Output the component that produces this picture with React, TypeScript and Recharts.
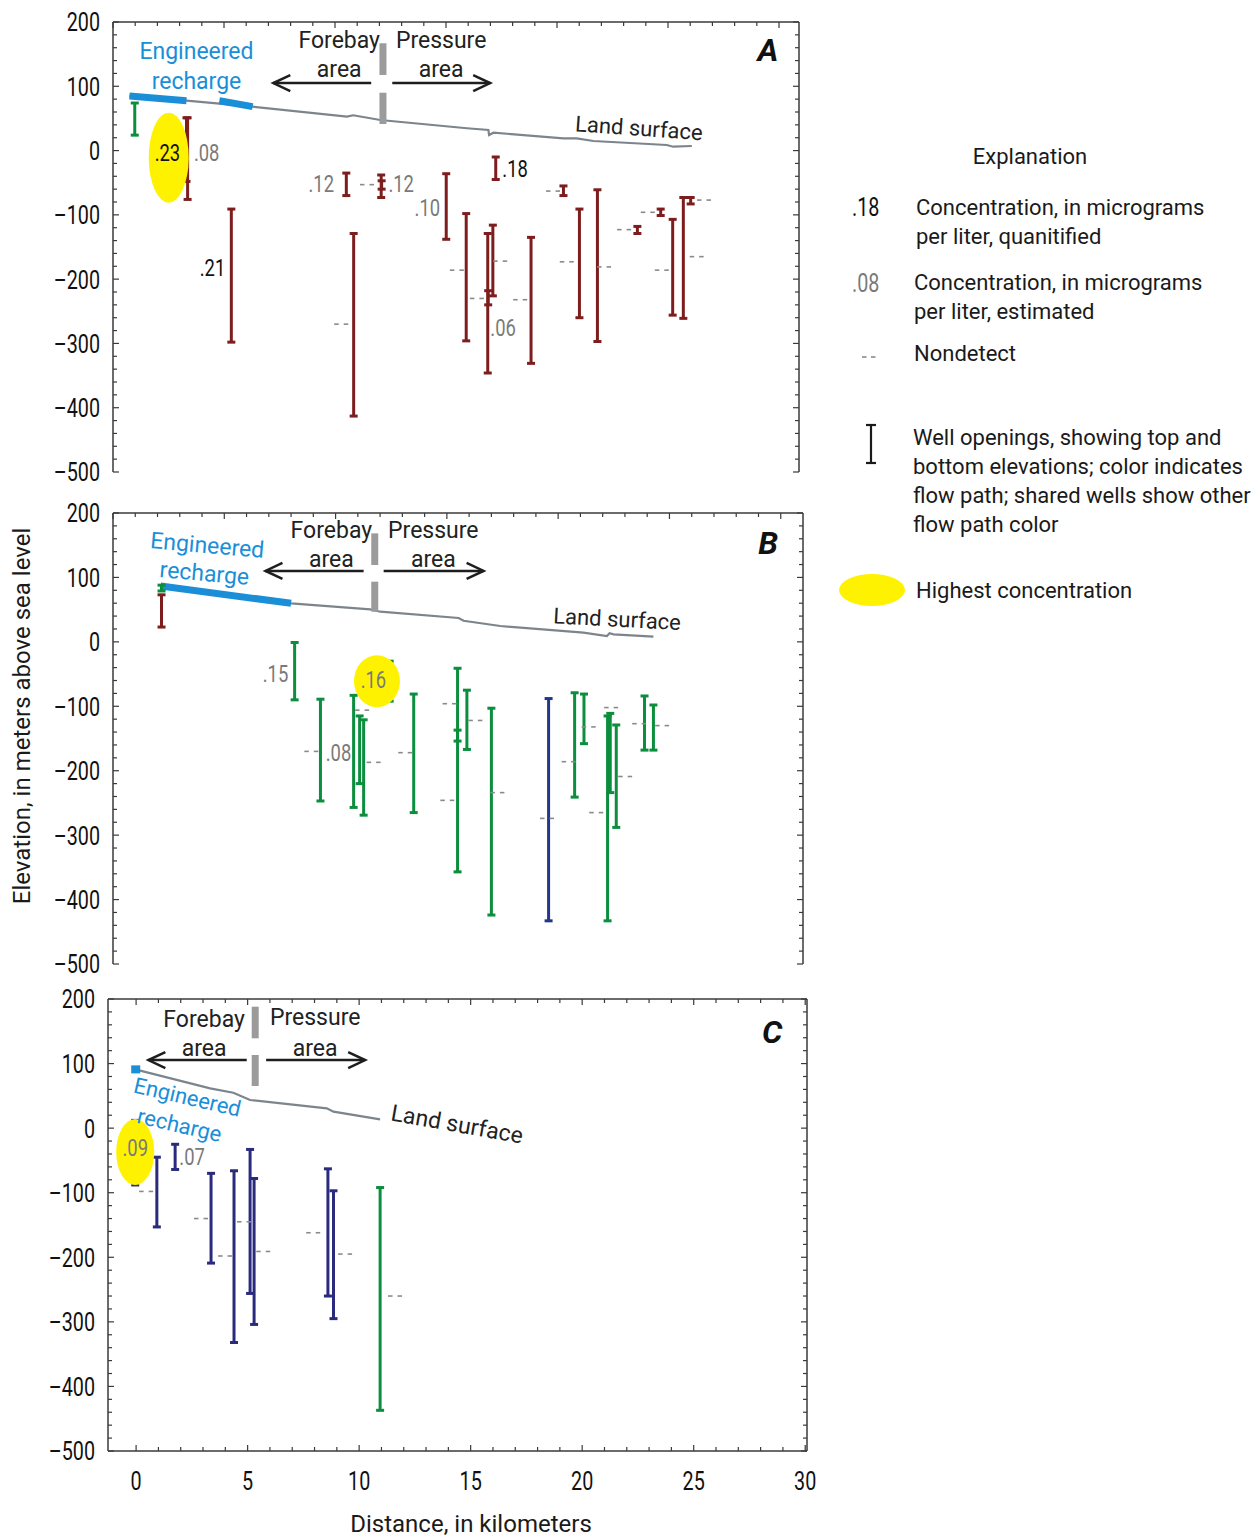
import React from 'react';
import {
  ComposedChart,
  XAxis,
  YAxis,
  Line,
  Scatter,
  ErrorBar,
  ReferenceLine,
  ReferenceDot,
} from 'recharts';

type Pt = { x: number; y: number };
type Well = { x: number; top: number; bottom: number };
type Conc = { x: number; y: number; text: string; est: boolean };

// ---------- data (distance in km, elevation in m above sea level) ----------

const yTicks = [
  200, 180, 160, 140, 120, 100, 80, 60, 40, 20, 0, -20, -40, -60, -80, -100, -120, -140, -160, -180,
  -200, -220, -240, -260, -280, -300, -320, -340, -360, -380, -400, -420, -440, -460, -480, -500,
];
const xTicks = [
  0, 1, 2, 3, 4, 5, 6, 7, 8, 9, 10, 11, 12, 13, 14, 15, 16, 17, 18, 19, 20, 21, 22, 23, 24, 25, 26,
  27, 28, 29, 30,
];

// Panel A
const wellsRedA: Well[] = [
  { x: 3.31, top: 51, bottom: -48 },
  { x: 3.36, top: 51, bottom: -76 },
  { x: 5.33, top: -91, bottom: -298 },
  { x: 10.51, top: -35, bottom: -70 },
  { x: 10.84, top: -129, bottom: -413 },
  { x: 12.08, top: -38, bottom: -73 },
  { x: 12.1, top: -47, bottom: -60 },
  { x: 15.01, top: -36, bottom: -138 },
  { x: 15.91, top: -98, bottom: -296 },
  { x: 16.88, top: -129, bottom: -346 },
  { x: 16.9, top: -218, bottom: -240 },
  { x: 17.11, top: -116, bottom: -226 },
  { x: 17.24, top: -10, bottom: -45 },
  { x: 18.83, top: -135, bottom: -331 },
  { x: 20.29, top: -55, bottom: -70 },
  { x: 21.01, top: -91, bottom: -260 },
  { x: 21.82, top: -61, bottom: -297 },
  { x: 23.62, top: -118, bottom: -129 },
  { x: 24.67, top: -91, bottom: -101 },
  { x: 25.21, top: -107, bottom: -256 },
  { x: 25.69, top: -73, bottom: -261 },
  { x: 26.02, top: -73, bottom: -83 },
];
const wellsGreenA: Well[] = [{ x: 0.98, top: 74, bottom: 24 }];
const concA: Conc[] = [
  { x: 2.45, y: -4, text: '.23', est: false },
  { x: 4.22, y: -4, text: '.08', est: true },
  { x: 4.48, y: -183, text: '.21', est: false },
  { x: 9.38, y: -52, text: '.12', est: true },
  { x: 12.98, y: -52, text: '.12', est: true },
  { x: 14.16, y: -89, text: '.10', est: true },
  { x: 18.11, y: -29, text: '.18', est: false },
  { x: 17.57, y: -276, text: '.06', est: true },
];
const nondetectA: Pt[] = [
  { x: 11.44, y: -53 }, { x: 10.28, y: -270 }, { x: 15.49, y: -186 }, { x: 16.39, y: -230 },
  { x: 17.44, y: -172 }, { x: 18.34, y: -232 }, { x: 20.44, y: -173 }, { x: 22.12, y: -181 },
  { x: 19.82, y: -63 }, { x: 23.02, y: -123 }, { x: 24.09, y: -96 }, { x: 24.72, y: -186 },
  { x: 26.29, y: -165 }, { x: 26.62, y: -77 },
];
const highestA: Pt[] = [{ x: 2.51, y: -11 }];
const landA: Pt[] = [
  { x: 0.74, y: 84.9 }, { x: 3.31, y: 77.6 }, { x: 6.29, y: 68.3 }, { x: 10.54, y: 52.7 },
  { x: 10.82, y: 54.9 }, { x: 12.04, y: 47.6 }, { x: 15.94, y: 34.7 }, { x: 16.91, y: 32.0 },
  { x: 16.94, y: 24.2 }, { x: 17.14, y: 27.8 }, { x: 20.29, y: 19.1 }, { x: 20.89, y: 19.1 },
  { x: 21.64, y: 14.9 }, { x: 24.94, y: 8.7 }, { x: 25.24, y: 6.0 }, { x: 26.07, y: 7.1 },
];
const rechargeA1: Pt[] = [{ x: 0.74, y: 84.9 }, { x: 3.31, y: 77.6 }];
const rechargeA2: Pt[] = [{ x: 4.79, y: 77.6 }, { x: 6.29, y: 68.3 }];

// Panel B
const wellsGreenB: Well[] = [
  { x: 2.18, top: 88, bottom: 79 },
  { x: 8.16, top: -1, bottom: -90 },
  { x: 9.32, top: -89, bottom: -247 },
  { x: 10.81, top: -83, bottom: -257 },
  { x: 11.08, top: -115, bottom: -220 },
  { x: 11.26, top: -121, bottom: -269 },
  { x: 12.43, top: -30, bottom: -92 },
  { x: 13.51, top: -81, bottom: -265 },
  { x: 15.48, top: -41, bottom: -357 },
  { x: 15.48, top: -137, bottom: -154 },
  { x: 15.9, top: -75, bottom: -167 },
  { x: 17.0, top: -103, bottom: -424 },
  { x: 20.74, top: -79, bottom: -241 },
  { x: 21.16, top: -81, bottom: -158 },
  { x: 22.22, top: -115, bottom: -433 },
  { x: 22.34, top: -111, bottom: -234 },
  { x: 22.61, top: -129, bottom: -288 },
  { x: 23.88, top: -84, bottom: -168 },
  { x: 24.28, top: -98, bottom: -168 },
];
const wellsRedB: Well[] = [{ x: 2.18, top: 73, bottom: 23 }];
const wellsBlueB: Well[] = [{ x: 19.57, top: -88, bottom: -433 }];
const concB: Conc[] = [
  { x: 7.3, y: -50, text: '.15', est: true },
  { x: 11.7, y: -59, text: '.16', est: true },
  { x: 10.13, y: -172, text: '.08', est: true },
];
const nondetectB: Pt[] = [
  { x: 8.91, y: -170 }, { x: 11.19, y: -106 }, { x: 11.71, y: -187 }, { x: 13.13, y: -172 },
  { x: 15.12, y: -96 }, { x: 15.02, y: -246 }, { x: 16.28, y: -122 }, { x: 17.27, y: -234 },
  { x: 19.5, y: -274 }, { x: 20.47, y: -186 }, { x: 21.37, y: -132 }, { x: 21.71, y: -265 },
  { x: 22.38, y: -102 }, { x: 23.01, y: -209 }, { x: 23.64, y: -127 }, { x: 24.67, y: -130 },
];
const highestB: Pt[] = [{ x: 11.86, y: -61 }];
const landB: Pt[] = [
  { x: 2.14, y: 86.7 }, { x: 8.0, y: 59.8 }, { x: 11.56, y: 50.5 }, { x: 12.01, y: 46.8 },
  { x: 15.53, y: 37.0 }, { x: 15.75, y: 32.8 }, { x: 17.4, y: 24.6 }, { x: 21.14, y: 14.2 },
  { x: 22.19, y: 9.1 }, { x: 22.31, y: 13.3 }, { x: 22.49, y: 11.7 }, { x: 24.28, y: 8.0 },
];
const rechargeB: Pt[] = [{ x: 2.14, y: 86.7 }, { x: 8.0, y: 59.8 }];

// Panel C
const wellsNavyC: Well[] = [
  { x: -0.04, top: 12, bottom: -88 },
  { x: 0.93, top: -45, bottom: -153 },
  { x: 1.75, top: -25, bottom: -64 },
  { x: 3.36, top: -70, bottom: -209 },
  { x: 4.39, top: -66, bottom: -332 },
  { x: 5.11, top: -33, bottom: -256 },
  { x: 5.29, top: -78, bottom: -304 },
  { x: 8.6, top: -63, bottom: -260 },
  { x: 8.85, top: -97, bottom: -295 },
];
const wellsGreenC: Well[] = [{ x: 10.94, top: -92, bottom: -437 }];
const concC: Conc[] = [
  { x: -0.04, y: -31, text: '.09', est: true },
  { x: 2.51, y: -45, text: '.07', est: true },
];
const nondetectC: Pt[] = [
  { x: 0.45, y: -98 }, { x: 2.91, y: -140 }, { x: 3.99, y: -198 }, { x: 4.84, y: -145 },
  { x: 5.7, y: -191 }, { x: 7.94, y: -162 }, { x: 9.37, y: -195 }, { x: 11.61, y: -260 },
];
const highestC: Pt[] = [{ x: -0.04, y: -37 }];
const landC: Pt[] = [
  { x: -0.04, y: 91.1 }, { x: 3.32, y: 61.7 }, { x: 4.36, y: 54.9 }, { x: 5.11, y: 43.6 },
  { x: 8.55, y: 30.7 }, { x: 8.85, y: 25.5 }, { x: 10.94, y: 13.7 },
];
const rechargeC: Pt[] = [{ x: -0.04, y: 91 }];

// ---------- styles ----------
const RED = '#7d1d1d';
const GREEN = '#0b8e3d';
const BLUE_B = '#22378c';
const NAVY = '#2a2b7d';
const RECHARGE = '#1a8fd8';
const LAND = '#7c848c';
const DIVIDER = '#9b9b9b';
const YELLOW = '#fff200';
const GRAY_T = '#7a7a7a';
const AXIS = '#3a3a3a';
const TEXT_FONT = "Roboto, 'Liberation Sans', sans-serif";

const fmtY = (v: number) => (v < 0 ? '\u2013' + Math.abs(v) : String(v));

// condensed-looking numerals (horizontally squeezed)
function NumText(props: { x: number; y: number; size: number; anchor: string; fill: string; sx?: number; children: React.ReactNode }) {
  return (
    <text
      transform={`translate(${props.x},${props.y}) scale(${props.sx ?? 0.76},1)`}
      dy="0.36em"
      textAnchor={props.anchor}
      fontSize={props.size}
      fontFamily={TEXT_FONT}
      fill={props.fill}
    >
      {props.children}
    </text>
  );
}

const LeftTick = (p: any) => {
  const v = p.payload.value;
  const major = v % 100 === 0;
  return (
    <g>
      <line x1={p.x} y1={p.y} x2={p.x + (major ? 6 : 4)} y2={p.y} stroke={AXIS} strokeWidth={1.2} />
      {major && (
        <NumText x={p.x - 13} y={p.y} size={26} anchor="end" fill="#111">
          {fmtY(v)}
        </NumText>
      )}
    </g>
  );
};
const RightTick = (p: any) => {
  const major = p.payload.value % 100 === 0;
  return <line x1={p.x} y1={p.y} x2={p.x - (major ? 6 : 4)} y2={p.y} stroke={AXIS} strokeWidth={1.2} />;
};
const TopTick = (p: any) => {
  const major = p.payload.value % 5 === 0;
  return <line x1={p.x} y1={p.y} x2={p.x} y2={p.y + (major ? 6 : 4)} stroke={AXIS} strokeWidth={1.2} />;
};
const BottomTick = (p: any) => {
  const major = p.payload.value % 5 === 0;
  return <line x1={p.x} y1={p.y} x2={p.x} y2={p.y - (major ? 6 : 4)} stroke={AXIS} strokeWidth={1.2} />;
};
const BottomTickLabeled = (p: any) => {
  const v = p.payload.value;
  const major = v % 5 === 0;
  return (
    <g>
      <line x1={p.x} y1={p.y} x2={p.x} y2={p.y - (major ? 6 : 4)} stroke={AXIS} strokeWidth={1.2} />
      {major && (
        <NumText x={p.x} y={p.y + 30} size={26} anchor="middle" fill="#111">
          {v}
        </NumText>
      )}
    </g>
  );
};

const arrowShape = (p: any) => {
  const { x1, y1, x2, y2 } = p;
  const dir = x2 > x1 ? 1 : -1;
  return (
    <g>
      <line x1={x1} y1={y1} x2={x2} y2={y2} stroke="#1e1e1e" strokeWidth={2.5} />
      <polyline
        points={`${x2 - dir * 17},${y2 - 8} ${x2},${y2} ${x2 - dir * 17},${y2 + 8}`}
        fill="none"
        stroke="#1e1e1e"
        strokeWidth={2.5}
      />
    </g>
  );
};

type NoteOpts = { size?: number; color?: string; rot?: number; bold?: boolean; italic?: boolean };
function note(key: string, x: number, y: number, text: string, o: NoteOpts = {}) {
  return (
    <ReferenceDot
      key={key}
      x={x}
      y={y}
      r={0}
      ifOverflow="visible"
      shape={(s: any) => (
        <text
          x={s.cx}
          y={s.cy}
          dy="0.35em"
          textAnchor="middle"
          fontSize={o.size ?? 23}
          fontFamily={TEXT_FONT}
          fontWeight={o.bold ? 700 : 400}
          fontStyle={o.italic ? 'italic' : 'normal'}
          fill={o.color ?? '#222'}
          transform={o.rot ? `rotate(${o.rot} ${s.cx} ${s.cy})` : undefined}
        >
          {text}
        </text>
      )}
    />
  );
}
function divider(key: string, x: number, a: number, b: number) {
  return (
    <ReferenceLine
      key={key}
      segment={[{ x, y: a }, { x, y: b }]}
      stroke={DIVIDER}
      strokeWidth={7}
      ifOverflow="visible"
    />
  );
}
function arrow(key: string, from: number, to: number, y: number) {
  return (
    <ReferenceLine
      key={key}
      segment={[{ x: from, y }, { x: to, y }]}
      shape={arrowShape}
      ifOverflow="visible"
    />
  );
}

const toRows = (ws: Well[]) =>
  ws.map((w) => ({ x: w.x, mid: (w.top + w.bottom) / 2, half: (w.top - w.bottom) / 2 }));

type PanelCfg = {
  top: number;
  height: number;
  margin: { top: number; right: number; bottom: number; left: number };
  yWidth: number;
  xHeight: number;
  xDomain: [number, number];
  xLabels: boolean;
  wells: { color: string; list: Well[] }[];
  conc: Conc[];
  nondetect: Pt[];
  highest: Pt[];
  hl: { rx: number; ry: number };
  land: Pt[];
  recharge: Pt[][];
  rechargeDot?: Pt[];
  notes: React.ReactNode[];
};

function Panel({ c }: { c: PanelCfg }) {
  return (
    <div style={{ position: 'absolute', left: 0, top: c.top }}>
      <ComposedChart width={830} height={c.height} margin={c.margin}>
        <XAxis
          type="number"
          dataKey="x"
          domain={c.xDomain}
          allowDataOverflow
          ticks={xTicks}
          interval={0}
          tickSize={0}
          tickMargin={0}
          tickLine={false}
          tick={c.xLabels ? BottomTickLabeled : BottomTick}
          axisLine={{ stroke: AXIS, strokeWidth: 1.5 }}
          height={c.xHeight}
        />
        <XAxis
          xAxisId="t"
          orientation="top"
          type="number"
          dataKey="x"
          domain={c.xDomain}
          allowDataOverflow
          ticks={xTicks}
          interval={0}
          tickSize={0}
          tickMargin={0}
          tickLine={false}
          tick={TopTick}
          axisLine={{ stroke: AXIS, strokeWidth: 1.5 }}
          height={1}
        />
        <YAxis
          type="number"
          domain={[-500, 200]}
          allowDataOverflow
          ticks={yTicks}
          interval={0}
          tickSize={0}
          tickMargin={0}
          tickLine={false}
          tick={LeftTick}
          axisLine={{ stroke: AXIS, strokeWidth: 1.5 }}
          width={c.yWidth}
        />
        <YAxis
          yAxisId="r"
          orientation="right"
          type="number"
          domain={[-500, 200]}
          allowDataOverflow
          ticks={yTicks}
          interval={0}
          tickSize={0}
          tickMargin={0}
          tickLine={false}
          tick={RightTick}
          axisLine={{ stroke: AXIS, strokeWidth: 1.5 }}
          width={1}
        />

        <Scatter
          data={c.highest}
          dataKey="y"
          isAnimationActive={false}
          shape={(s: any) => <ellipse cx={s.cx} cy={s.cy} rx={c.hl.rx} ry={c.hl.ry} fill={YELLOW} />}
        />
        <Line
          data={c.land}
          dataKey="y"
          type="linear"
          stroke={LAND}
          strokeWidth={2.2}
          dot={false}
          isAnimationActive={false}
        />
        {c.recharge.map((seg, i) => (
          <Line
            key={'rc' + i}
            data={seg}
            dataKey="y"
            type="linear"
            stroke={RECHARGE}
            strokeWidth={7}
            dot={false}
            isAnimationActive={false}
          />
        ))}
        {c.rechargeDot && (
          <Scatter
            data={c.rechargeDot}
            dataKey="y"
            isAnimationActive={false}
            shape={(s: any) => <rect x={s.cx - 4} y={s.cy - 4} width={9} height={8} fill={RECHARGE} />}
          />
        )}
        {c.notes}
        {c.wells.map((g, i) => (
          <Scatter
            key={'w' + i}
            data={toRows(g.list)}
            dataKey="mid"
            isAnimationActive={false}
            shape={() => <g />}
          >
            <ErrorBar
              dataKey="half"
              direction="y"
              width={4}
              stroke={g.color}
              strokeWidth={3}
              isAnimationActive={false}
            />
          </Scatter>
        ))}
        {/* nondetects are plotted on the top/right axes (same scales) so those frame axes are in use */}
        <Scatter
          data={c.nondetect}
          dataKey="y"
          xAxisId="t"
          yAxisId="r"
          isAnimationActive={false}
          shape={(s: any) => (
            <g stroke="#8a8a8a" strokeWidth={1.6}>
              <line x1={s.cx - 7} y1={s.cy} x2={s.cx - 2.5} y2={s.cy} />
              <line x1={s.cx + 2.5} y1={s.cy} x2={s.cx + 7} y2={s.cy} />
            </g>
          )}
        />
        <Scatter
          data={c.conc}
          dataKey="y"
          isAnimationActive={false}
          shape={(s: any) => (
            <NumText x={s.cx} y={s.cy} size={23} anchor="middle" fill={s.payload.est ? GRAY_T : '#111'} sx={0.8}>
              {s.payload.text}
            </NumText>
          )}
        />
      </ComposedChart>
    </div>
  );
}

const panelA: PanelCfg = {
  top: 0,
  height: 490,
  margin: { top: 21, right: 30, bottom: 18, left: 0 },
  yWidth: 113,
  xHeight: 0,
  xDomain: [0, 30.9],
  xLabels: false,
  wells: [
    { color: GREEN, list: wellsGreenA },
    { color: RED, list: wellsRedA },
  ],
  conc: concA,
  nondetect: nondetectA,
  highest: highestA,
  hl: { rx: 20, ry: 45 },
  land: landA,
  recharge: [rechargeA1, rechargeA2],
  notes: [
    divider('d1', 12.16, 166.9, 117.6),
    divider('d2', 12.16, 90, 41.3),
    arrow('a1', 11.63, 7.22, 105),
    arrow('a2', 12.58, 16.99, 105),
    note('fb', 10.19, 172, 'Forebay'),
    note('fa', 10.19, 127, 'area'),
    note('pr', 14.78, 172, 'Pressure'),
    note('pa', 14.78, 127, 'area'),
    note('en', 3.76, 155, 'Engineered', { color: RECHARGE }),
    note('re', 3.76, 108, 'recharge', { color: RECHARGE }),
    note('ls', 23.69, 35, 'Land surface', { rot: 4, size: 22 }),
    note('id', 29.5, 156, 'A', { size: 32, bold: true, italic: true, color: '#111' }),
  ],
};

const panelB: PanelCfg = {
  top: 490,
  height: 490,
  margin: { top: 22, right: 26, bottom: 16, left: 0 },
  yWidth: 113,
  xHeight: 0,
  xDomain: [0, 31.0],
  xLabels: false,
  wells: [
    { color: GREEN, list: wellsGreenB },
    { color: RED, list: wellsRedB },
    { color: BLUE_B, list: wellsBlueB },
  ],
  conc: concB,
  nondetect: nondetectB,
  highest: highestB,
  hl: { rx: 23, ry: 26 },
  land: landB,
  recharge: [rechargeB],
  notes: [
    divider('d1', 11.76, 168.4, 119.3),
    divider('d2', 11.76, 93.4, 46.8),
    arrow('a1', 11.26, 6.85, 110),
    arrow('a2', 12.16, 16.65, 110),
    note('fb', 9.81, 173.6, 'Forebay'),
    note('fa', 9.81, 128.6, 'area'),
    note('pr', 14.39, 173.6, 'Pressure'),
    note('pa', 14.39, 128.6, 'area'),
    note('en', 4.24, 150.3, 'Engineered', { color: RECHARGE, rot: 5 }),
    note('re', 4.11, 106.9, 'recharge', { color: RECHARGE, rot: 5 }),
    note('ls', 22.65, 35.5, 'Land surface', { rot: 3, size: 22 }),
    note('id', 29.43, 153.4, 'B', { size: 32, bold: true, italic: true, color: '#111' }),
  ],
};

const panelC: PanelCfg = {
  top: 985,
  height: 554,
  margin: { top: 13, right: 22, bottom: 38, left: 0 },
  yWidth: 108,
  xHeight: 50,
  xDomain: [-1.26, 30.08],
  xLabels: true,
  wells: [
    { color: NAVY, list: wellsNavyC },
    { color: GREEN, list: wellsGreenC },
  ],
  conc: concC,
  nondetect: nondetectC,
  highest: highestC,
  hl: { rx: 19, ry: 33 },
  land: landC,
  recharge: [],
  rechargeDot: rechargeC,
  notes: [
    divider('d1', 5.34, 188.1, 139.1),
    divider('d2', 5.34, 113.3, 65.3),
    arrow('a1', 4.96, 0.55, 105.5),
    arrow('a2', 5.83, 10.27, 105.5),
    note('fb', 3.05, 169, 'Forebay'),
    note('fa', 3.05, 124.1, 'area'),
    note('pr', 8.03, 172.1, 'Pressure'),
    note('pa', 8.03, 124.1, 'area'),
    note('en', 2.3, 48.2, 'Engineered', { color: RECHARGE, rot: 13, size: 22 }),
    note('re', 1.95, 4.9, 'recharge', { color: RECHARGE, rot: 13, size: 22 }),
    note('ls', 14.39, 6.4, 'Land surface', { rot: 10, size: 23 }),
    note('id', 28.52, 148.9, 'C', { size: 32, bold: true, italic: true, color: '#111' }),
  ],
};

function Explanation() {
  const t = { fontFamily: TEXT_FONT, fontSize: 22, fill: '#1a1a1a' } as const;
  return (
    <svg width={430} height={500} style={{ position: 'absolute', left: 824, top: 120 }}>
      <g transform="translate(-824,-120)">
        <text x={1030} y={164} textAnchor="middle" {...t}>Explanation</text>
        <NumText x={852} y={207} size={26} anchor="start" fill="#111">.18</NumText>
        <text x={916} y={215} {...t}>Concentration, in micrograms</text>
        <text x={916} y={244} {...t}>per liter, quanitified</text>
        <NumText x={852} y={283} size={26} anchor="start" fill={GRAY_T}>.08</NumText>
        <text x={914} y={290} {...t}>Concentration, in micrograms</text>
        <text x={914} y={319} {...t}>per liter, estimated</text>
        <g stroke="#8a8a8a" strokeWidth={1.6}>
          <line x1={862} y1={357} x2={866.5} y2={357} />
          <line x1={871} y1={357} x2={875.5} y2={357} />
        </g>
        <text x={914} y={361} {...t}>Nondetect</text>
        <g stroke="#1a1a1a" strokeWidth={2.2}>
          <line x1={871} y1={425} x2={871} y2={463} />
          <line x1={866} y1={425} x2={876} y2={425} />
          <line x1={866} y1={463} x2={876} y2={463} />
        </g>
        <text x={913} y={445} {...t}>Well openings, showing top and</text>
        <text x={913} y={474} {...t}>bottom elevations; color indicates</text>
        <text x={913} y={503} {...t}>flow path; shared wells show other</text>
        <text x={913} y={532} {...t}>flow path color</text>
        <ellipse cx={872} cy={590} rx={33} ry={16} fill={YELLOW} />
        <text x={916} y={598} {...t}>Highest concentration</text>
      </g>
    </svg>
  );
}

export default function App() {
  return (
    <div style={{ position: 'absolute', left: 0, top: 0, width: 1254, height: 1539, background: '#fff' }}>
      <Panel c={panelA} />
      <Panel c={panelB} />
      <Panel c={panelC} />
      <div
        style={{
          position: 'absolute',
          left: 22,
          top: 716,
          transform: 'translate(-50%, -50%) rotate(-90deg)',
          whiteSpace: 'nowrap',
          fontFamily: TEXT_FONT,
          fontSize: 24,
          color: '#1a1a1a',
        }}
      >
        Elevation, in meters above sea level
      </div>
      <div
        style={{
          position: 'absolute',
          left: 471,
          top: 1524,
          transform: 'translate(-50%, -50%)',
          whiteSpace: 'nowrap',
          fontFamily: TEXT_FONT,
          fontSize: 24,
          color: '#1a1a1a',
        }}
      >
        Distance, in kilometers
      </div>
      <Explanation />
    </div>
  );
}
